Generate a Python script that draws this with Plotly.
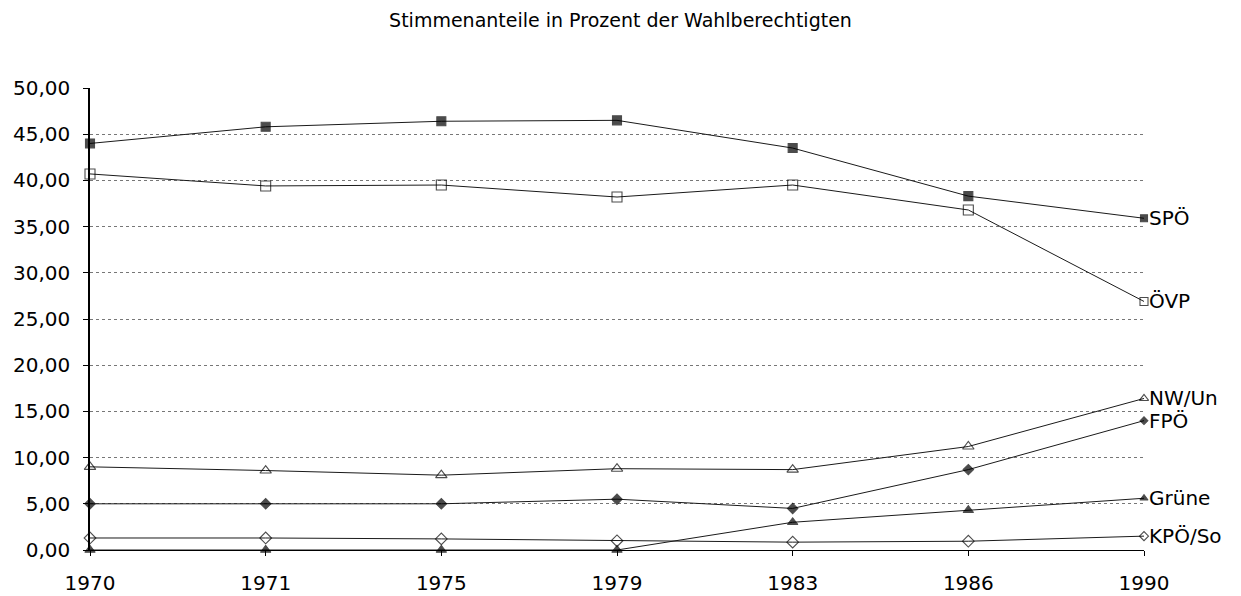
import plotly.graph_objects as go

years = ["1970", "1971", "1975", "1979", "1983", "1986", "1990"]
spoe = [44.0, 45.8, 46.4, 46.5, 43.5, 38.3, 35.9]
oevp = [40.7, 39.4, 39.5, 38.2, 39.5, 36.8, 26.9]
nwun = [9.0, 8.6, 8.1, 8.8, 8.7, 11.2, 16.4]
fpoe = [5.0, 5.0, 5.0, 5.5, 4.5, 8.7, 14.0]
gruene = [0.0, 0.0, 0.0, 0.0, 3.0, 4.3, 5.6]
kpoe = [1.3, 1.3, 1.2, 1.0, 0.85, 0.95, 1.5]
names = ["SPÖ", "ÖVP", "NW/Un", "FPÖ", "Grüne", "KPÖ/So"]
yticks = [0, 5, 10, 15, 20, 25, 30, 35, 40, 45, 50]

series = [spoe, oevp, nwun, fpoe, gruene, kpoe]
symbols = ["square", "square-open", "triangle-up-open", "diamond", "triangle-up", "diamond-open"]
sizes = [9, 10, 10, 8, 9, 9]

FONT = "DejaVu Sans, Verdana, sans-serif"

fig = go.Figure()
n = len(years)
for name, vals, sym, sz in zip(names, series, symbols, sizes):
    sizearr = [sz] * (n - 1) + [sz - 2]
    fig.add_trace(go.Scatter(
        x=years, y=vals, mode="lines+markers", name=name,
        line=dict(color="#1a1a1a", width=1),
        marker=dict(symbol=sym, size=sizearr, color="black",
                    line=dict(color="black", width=1.1)),
        cliponaxis=False, showlegend=False,
    ))
    fig.add_annotation(x=1, y=vals[-1], xref="paper", yref="y",
                       text=name, showarrow=False, xanchor="left", yanchor="middle",
                       xshift=3, font=dict(size=20, color="black", family=FONT))

fig.update_layout(
    width=1241, height=596,
    paper_bgcolor="white", plot_bgcolor="white",
    margin=dict(l=90, r=97, t=88, b=46, autoexpand=False),
    separators=",.",
    font=dict(family=FONT, color="black"),
    title=dict(text="Stimmenanteile in Prozent der Wahlberechtigten",
               x=0.5, xanchor="center", y=0.966, yanchor="middle",
               font=dict(size=19, color="black", family=FONT)),
)
fig.update_xaxes(
    type="category", range=[0, n - 1], showgrid=False, automargin=False,
    showline=True, linecolor="black", linewidth=1,
    ticks="outside", ticklen=5, tickcolor="black",
    ticklabelstandoff=10, tickfont=dict(size=20, family=FONT),
    zeroline=False,
)
fig.update_yaxes(
    range=[0, 50], tickvals=yticks, tickformat=".2f", automargin=False,
    showgrid=True, gridcolor="#777777", griddash="dot", gridwidth=1,
    showline=True, linecolor="black", linewidth=1.5,
    ticks="outside", ticklen=5, tickcolor="black",
    ticklabelstandoff=9, tickfont=dict(size=20, family=FONT), zeroline=False,
)
fig.write_html("out.html", config={"displayModeBar": False},
               post_script="document.body.style.margin='0px';")
